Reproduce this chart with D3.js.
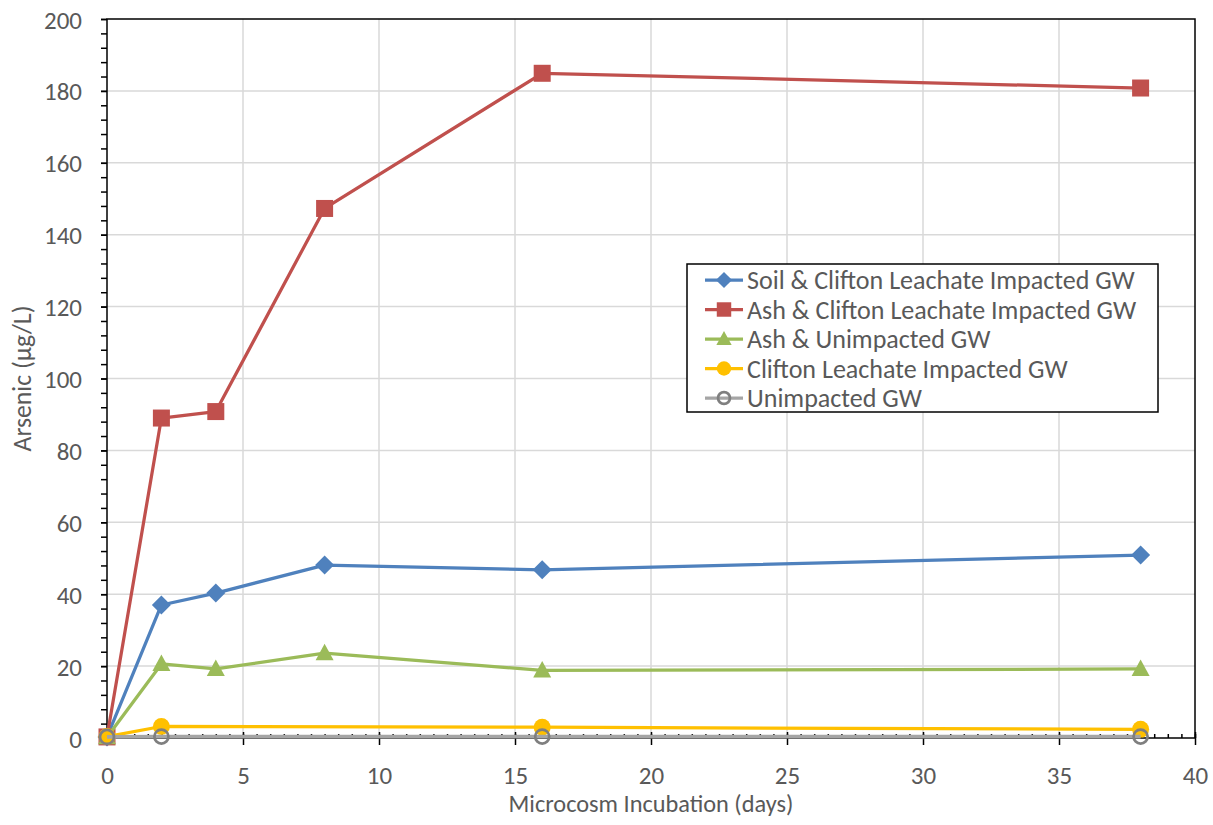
<!DOCTYPE html>
<html><head><meta charset="utf-8">
<script src="https://cdn.jsdelivr.net/npm/d3@7"></script>
<style>
html,body{margin:0;padding:0;background:#fff;}
svg text{font-family:Carlito,Calibri,Lato,"Open Sans",sans-serif;fill:#595959;}
</style></head>
<body><svg id="c" width="1213" height="825"></svg>
<script>
// ---- data ----
const seriesNames = ["Soil & Clifton Leachate Impacted GW","Ash & Clifton Leachate Impacted GW","Ash & Unimpacted GW","Clifton Leachate Impacted GW","Unimpacted GW"];
const soilDays = [0,2,4,8,16,38];
const soilValues = [0.3,37.0,40.3,48.1,46.8,50.9];
const ashCliftonDays = [0,2,4,8,16,38];
const ashCliftonValues = [0.3,89.0,90.8,147.3,184.9,180.8];
const ashUnimpDays = [0,2,4,8,16,38];
const ashUnimpValues = [0.2,20.6,19.2,23.6,18.8,19.2];
const cliftonDays = [0,2,16,38];
const cliftonValues = [0.4,3.2,3.0,2.4];
const unimpDays = [0,2,16,38];
const unimpValues = [0.3,0.4,0.4,0.4];
const xTicks = [0,5,10,15,20,25,30,35,40];
const yTicks = [0,20,40,60,80,100,120,140,160,180,200];
const xTitle = "Microcosm Incubation (days)";
const yTitle = "Arsenic (µg/L)";

const colors = ["#4F81BD","#C0504D","#9BBB59","#FFC000","#A5A5A5"];
const symbols = ["diamond","square","triangle","circle","hollow"];
const series = [
  {days:soilDays, vals:soilValues},
  {days:ashCliftonDays, vals:ashCliftonValues},
  {days:ashUnimpDays, vals:ashUnimpValues},
  {days:cliftonDays, vals:cliftonValues},
  {days:unimpDays, vals:unimpValues}
].map((s,i)=>({name:seriesNames[i], color:colors[i], sym:symbols[i], pts:s.days.map((d,j)=>[d,s.vals[j]])}));

const svg = d3.select("#c");
const L=107,R=1195,T=19,B=738;
const x = d3.scaleLinear().domain([0,40]).range([L,R]);
const y = d3.scaleLinear().domain([0,200]).range([B,T]);

svg.append("rect").attr("width",1213).attr("height",825).attr("fill","#fff");

// helper: font size so that a text gets a given width
function fitSize(str, targetW){
  const t = svg.append("text").attr("font-size",20).text(str);
  const w = t.node().getComputedTextLength();
  t.remove();
  return 20*targetW/w;
}
const tickFs = fitSize("200",38);
const xTitleFs = fitSize(xTitle,285);
const yTitleFs = fitSize(yTitle,146);
const legFs = fitSize(seriesNames[0],388);

// grid
const g = svg.append("g");
g.selectAll(".vg").data(xTicks.slice(1,-1)).join("line")
  .attr("x1",d=>x(d)).attr("x2",d=>x(d)).attr("y1",T).attr("y2",B)
  .attr("stroke","#d9d9d9").attr("stroke-width",1.5);
g.selectAll(".hg").data(yTicks.slice(1,-1)).join("line")
  .attr("x1",L).attr("x2",R).attr("y1",d=>y(d)).attr("y2",d=>y(d))
  .attr("stroke","#d9d9d9").attr("stroke-width",1.5);

// frame
svg.append("rect").attr("x",L).attr("y",T).attr("width",R-L).attr("height",B-T)
  .attr("fill","none").attr("stroke","#000").attr("stroke-width",1.5);

// y axis minor ticks
const yMinor = d3.range(0,201,4);
const yAxMinor = svg.append("g").attr("transform",`translate(${L},0)`)
  .call(d3.axisLeft(y).tickValues(yMinor).tickSize(6).tickFormat(""));
yAxMinor.select(".domain").remove();
yAxMinor.selectAll("line").attr("stroke","#000").attr("stroke-width",1.5);
const yAx = svg.append("g").attr("transform",`translate(${L},0)`)
  .call(d3.axisLeft(y).tickValues(yTicks).tickSize(6).tickPadding(19));
yAx.select(".domain").remove();
yAx.selectAll("line").attr("stroke","#000").attr("stroke-width",1.5);
yAx.selectAll("text").attr("font-size",tickFs).attr("fill","#595959").attr("dy","0.36em");

// x axis minor ticks (inside)
const xMinor = d3.range(0,40.01,0.5);
const xAxMinor = svg.append("g").attr("transform",`translate(0,${B})`)
  .call(d3.axisTop(x).tickValues(xMinor).tickSize(4).tickFormat(""));
xAxMinor.select(".domain").remove();
xAxMinor.selectAll("line").attr("stroke","#000").attr("stroke-width",1.5);
const xAx = svg.append("g").attr("transform",`translate(0,${B})`)
  .call(d3.axisBottom(x).tickValues(xTicks).tickSize(7).tickPadding(21));
xAx.select(".domain").remove();
xAx.selectAll("line").attr("stroke","#000").attr("stroke-width",1.5).attr("y1",-6);
xAx.selectAll("text").attr("font-size",tickFs).attr("fill","#595959");

// titles
svg.append("text").attr("x",(L+R)/2).attr("y",812).attr("text-anchor","middle")
  .attr("font-size",xTitleFs).text(xTitle);
svg.append("text").attr("transform",`translate(31,${(T+B)/2}) rotate(-90)`).attr("text-anchor","middle")
  .attr("font-size",yTitleFs).text(yTitle);

// marker drawing
function marker(sel, sym, color, k){
  if(sym==="diamond") sel.append("path").attr("d",`M0,${-9.5*k} L${9.5*k},0 L0,${9.5*k} L${-9.5*k},0 Z`).attr("fill",color);
  else if(sym==="square") sel.append("rect").attr("x",-8.5*k).attr("y",-8.5*k).attr("width",17*k).attr("height",17*k).attr("fill",color);
  else if(sym==="triangle") sel.append("path").attr("d",`M0,${-9.5*k} L${9*k},${7*k} L${-9*k},${7*k} Z`).attr("fill",color);
  else if(sym==="circle") sel.append("circle").attr("r",8.5*k).attr("fill",color);
  else sel.append("circle").attr("r",7*k).attr("fill","none").attr("stroke","#7F7F7F").attr("stroke-width",2.75);
}

const line = d3.line().x(d=>x(d[0])).y(d=>y(d[1]));
const plot = svg.append("g");
series.forEach(s=>{
  const gs = plot.append("g");
  gs.append("path").attr("d",line(s.pts)).attr("fill","none").attr("stroke",s.color)
    .attr("stroke-width",s.sym==="hollow"?3.75:3.25).attr("stroke-linejoin","round");
  s.pts.forEach(p=>{
    const m = gs.append("g").attr("transform",`translate(${x(p[0])},${y(p[1])})`);
    marker(m,s.sym,s.color,1);
  });
});

// legend
const lg = svg.append("g");
lg.append("rect").attr("x",687).attr("y",264).attr("width",471).attr("height",148)
  .attr("fill","#fff").attr("stroke","#000").attr("stroke-width",1.5);
series.forEach((s,i)=>{
  const cy = 280 + i*29.5;
  const it = lg.append("g");
  it.append("line").attr("x1",705).attr("x2",743).attr("y1",cy).attr("y2",cy)
    .attr("stroke",s.color).attr("stroke-width",3.25);
  const m = it.append("g").attr("transform",`translate(724,${cy})`);
  marker(m,s.sym,s.color,0.85);
  it.append("text").attr("x",747).attr("y",cy).attr("dy","0.36em")
    .attr("font-size",legFs).text(s.name);
});
</script></body></html>
